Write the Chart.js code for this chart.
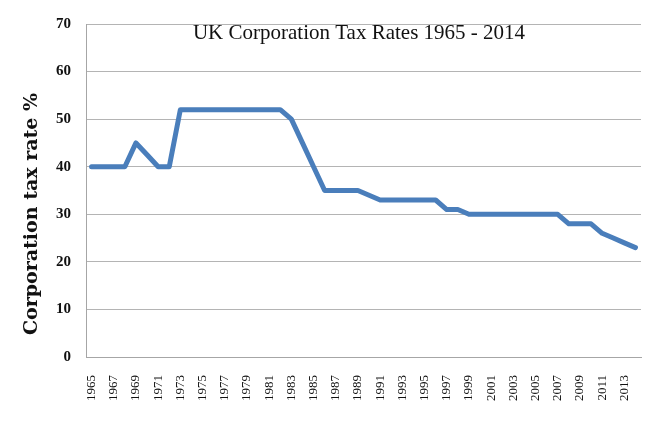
<!DOCTYPE html>
<html>
<head>
<meta charset="utf-8">
<script src="https://cdn.jsdelivr.net/npm/chart.js@4.4.1/dist/chart.umd.min.js"></script>
<style>
  html, body { margin: 0; padding: 0; background: #fff; }
  #wrap { width: 650px; height: 424px; }
</style>
</head>
<body>
<div id="wrap"><canvas id="taxChart"></canvas></div>
<script>
const years = [];
for (let y = 1965; y <= 2014; y++) years.push(String(y));

const taxRates = [
  40, 40, 40, 40, 45, 42.5, 40, 40, 52, 52,
  52, 52, 52, 52, 52, 52, 52, 52, 50, 45,
  40, 35, 35, 35, 35, 34, 33, 33, 33, 33,
  33, 33, 31, 31, 30, 30, 30, 30, 30, 30,
  30, 30, 30, 28, 28, 28, 26, 25, 24, 23,
];

const yTicks = { min: 0, max: 70, step: 10 };
const chartTitle = "UK Corporation Tax Rates 1965 - 2014";
const yTitle = "Corporation tax rate %";

const serif = "'Liberation Serif', 'DejaVu Serif', serif";

// Excel-style titles: main one sits inside the plot area,
// the axis one is placed a bit below the middle like the original
const excelTitles = {
  id: "excelTitles",
  afterDraw(chart) {
    const { ctx } = chart;
    ctx.save();
    ctx.fillStyle = "#111";
    ctx.textAlign = "center";
    ctx.textBaseline = "alphabetic";
    ctx.font = "21px " + serif;
    ctx.fillText(chartTitle, 359, 39);

    ctx.translate(37, 214);
    ctx.rotate(-Math.PI / 2);
    ctx.font = "bold 19px 'DejaVu Serif', serif";
    ctx.fillText(yTitle, 0, 0);
    ctx.restore();
  },
};

const ctx = document.getElementById("taxChart");
new Chart(ctx, {
  type: "line",
  data: {
    labels: years,
    datasets: [
      {
        label: "Corporation tax rate",
        data: taxRates,
        borderColor: "#4a7ebb",
        borderWidth: 5,
        borderJoinStyle: "round",
        borderCapStyle: "round",
        pointRadius: 0,
        tension: 0,
        fill: false,
      },
    ],
  },
  options: {
    responsive: true,
    maintainAspectRatio: false,
    animation: false,
    layout: { padding: { left: 10, right: 9, top: 7, bottom: 5 } },
    scales: {
      x: {
        offset: true,
        // the rotated labels would otherwise reserve a wide right margin
        afterFit: (s) => { s.paddingRight = 0; },
        grid: { display: false, drawTicks: false },
        border: { color: "#a6a6a6", width: 1 },
        ticks: {
          autoSkip: false,
          maxRotation: 90,
          minRotation: 90,
          padding: 18,
          color: "#111",
          font: { family: serif, size: 13 },
          callback: (val, i) => (i % 2 === 0 ? years[i] : ""),
        },
      },
      y: {
        min: yTicks.min,
        max: yTicks.max,
        afterFit: (s) => { s.width = 76; },
        grid: { color: "#b4b4b4", lineWidth: 1, drawTicks: false },
        border: { color: "#a6a6a6", width: 1 },
        ticks: {
          stepSize: yTicks.step,
          padding: 15,
          color: "#111",
          font: { family: serif, size: 15, weight: "bold" },
        },
      },
    },
    plugins: {
      legend: { display: false },
      tooltip: { enabled: false },
    },
  },
  plugins: [excelTitles],
});
</script>
</body>
</html>
